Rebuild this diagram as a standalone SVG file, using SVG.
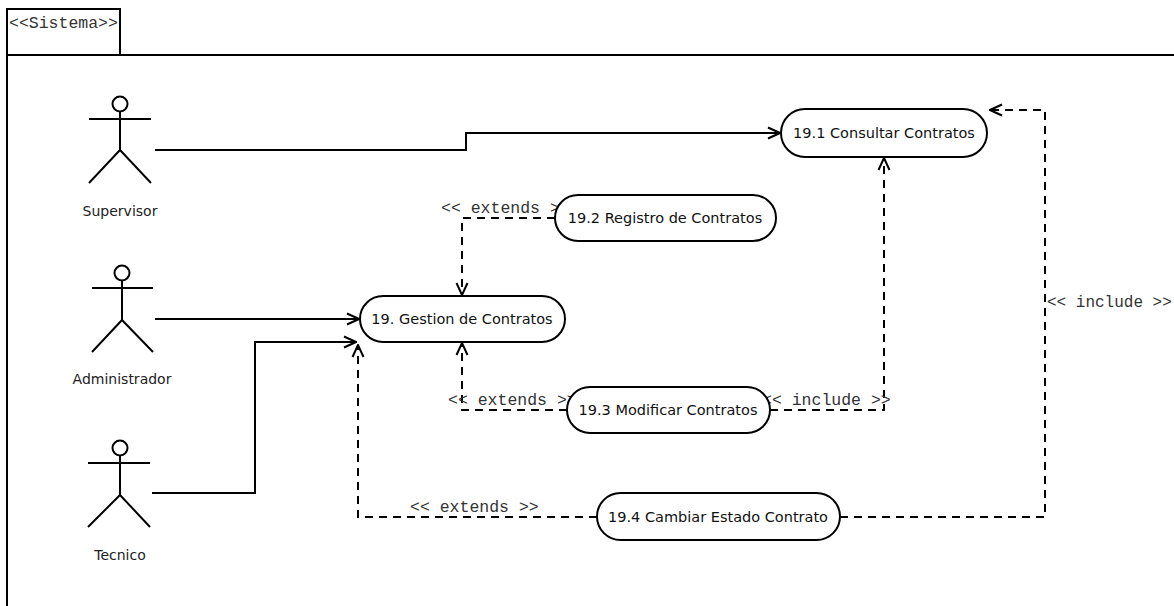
<svg xmlns="http://www.w3.org/2000/svg" width="1174" height="606" viewBox="0 0 1174 606">
<style>
.frame{fill:none;stroke:#000;stroke-width:2}
.uc{fill:#fff;stroke:#000;stroke-width:2}
.uct{font-family:"DejaVu Sans",Verdana,sans-serif;font-size:14.5px;fill:#111;text-anchor:middle;dominant-baseline:central}
.act{fill:none;stroke:#000;stroke-width:2}
.actt{font-family:"DejaVu Sans",Verdana,sans-serif;font-size:14px;fill:#222;text-anchor:middle;dominant-baseline:central}
.solid{fill:none;stroke:#000;stroke-width:2;marker-end:url(#arr)}
.dash{fill:none;stroke:#000;stroke-width:2;stroke-dasharray:8,6;marker-end:url(#arr)}
.st{font-family:"Liberation Mono","Courier New",monospace;font-size:16.5px;fill:#333;dominant-baseline:central}
</style>
<defs>
<marker id="arr" viewBox="0 0 14 14" refX="13" refY="7" markerWidth="14" markerHeight="14" markerUnits="userSpaceOnUse" orient="auto">
<path d="M1,1.5 L13,7 L1,12.5" fill="none" stroke="#000" stroke-width="2"/>
</marker>
</defs>
<rect width="1174" height="606" fill="#fff"/>
<g id="frame">
<rect class="frame" x="7" y="9" width="113" height="46"/>
<path class="frame" d="M7,55 L7,606 M7,55 L1174,55"/>
<text x="9" y="23" class="st">&lt;&lt;Sistema&gt;&gt;</text>
</g>
<g id="connectors">
<path class="solid" d="M155,150 L466,150 L466,133 L780,133"/>
<path class="solid" d="M155,319 L359,319"/>
<path class="solid" d="M152,493 L255,493 L255,342 L356,342"/>
<path class="dash" d="M555,218 L462,218 L462,295"/>
<path class="dash" d="M567,410 L462,410 L462,343"/>
<path class="dash" d="M770,410 L884,410 L884,158"/>
<path class="dash" d="M597,517 L358,517 L358,345"/>
<path class="dash" d="M840,517 L1045,517 L1045,110 L990,110"/>
<text class="st" x="441" y="208">&lt;&lt; extends &gt;&gt;</text>
<text class="st" x="448" y="400">&lt;&lt; extends &gt;&gt;</text>
<text class="st" x="762" y="400">&lt;&lt; include &gt;&gt;</text>
<text class="st" x="410" y="507">&lt;&lt; extends &gt;&gt;</text>
<text class="st" x="1047" y="303" style="font-size:16px">&lt;&lt; include &gt;&gt;</text>
</g>
<g id="actor-supervisor">
<circle class="act" cx="120" cy="104" r="7.5"/>
<path class="act" d="M89,119 L151,119 M120,112 L120,150 M89,183 L120,150 L151,183"/>
<text class="actt" x="120" y="211">Supervisor</text>
</g>
<g id="actor-administrador">
<circle class="act" cx="122" cy="273" r="7.5"/>
<path class="act" d="M92,288 L153,288 M122,281 L122,320 M92,352 L122,320 L153,352"/>
<text class="actt" x="122" y="379">Administrador</text>
</g>
<g id="actor-tecnico">
<circle class="act" cx="120" cy="448" r="7.5"/>
<path class="act" d="M88,463 L150,463 M120,456 L120,495 M88,527 L120,495 L150,527"/>
<text class="actt" x="120" y="555">Tecnico</text>
</g>
<g id="uc-19-1">
<rect class="uc" x="781" y="109" width="206" height="48" rx="24"/>
<text class="uct" x="884" y="133">19.1 Consultar Contratos</text>
</g>
<g id="uc-19-2">
<rect class="uc" x="555" y="195" width="221" height="46" rx="23"/>
<text class="uct" x="665" y="218">19.2 Registro de Contratos</text>
</g>
<g id="uc-19">
<rect class="uc" x="360" y="296" width="205" height="46" rx="23"/>
<text class="uct" x="462" y="319">19. Gestion de Contratos</text>
</g>
<g id="uc-19-3">
<rect class="uc" x="567" y="387" width="203" height="46" rx="23"/>
<text class="uct" x="668" y="410">19.3 Modificar Contratos</text>
</g>
<g id="uc-19-4">
<rect class="uc" x="597" y="493" width="243" height="47" rx="23.5"/>
<text class="uct" x="718" y="517">19.4 Cambiar Estado Contrato</text>
</g>
</svg>
